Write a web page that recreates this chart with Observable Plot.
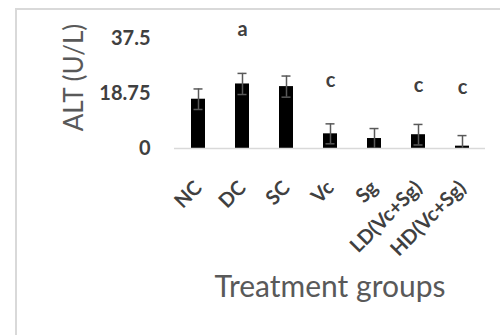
<!DOCTYPE html>
<html>
<head>
<meta charset="utf-8">
<script src="https://cdn.jsdelivr.net/npm/d3@7"></script>
<script src="https://cdn.jsdelivr.net/npm/@observablehq/plot@0.6"></script>
<style>
  html, body { margin: 0; padding: 0; background: #fff; }
  #wrap { position: relative; width: 500px; height: 335px; overflow: hidden; }
  #frame { position: absolute; left: 15px; top: 8px; right: -5px; bottom: -5px;
           border-left: 2px solid #d9d9d9; border-top: 2px solid #d9d9d9; pointer-events: none; }
</style>
</head>
<body>
<div id="wrap"></div>
<script>
const groups = ["NC", "DC", "SC", "Vc", "Sg", "LD(Vc+Sg)", "HD(Vc+Sg)"];
const means = [16.8, 22.0, 21.1, 5.0, 3.4, 4.7, 0.8];
const errors = [3.5, 3.6, 3.6, 3.4, 3.4, 3.5, 3.6];
const letters = ["", "a", "", "c", "", "c", "c"];
const letterY = [null, 38.2, null, 21.1, null, 19.1, 18.75];
const yTicks = [0, 18.75, 37.5];
const yTitle = "ALT (U/L)";
const xTitle = "Treatment groups";

const data = groups.map((g, i) => ({
  group: g, mean: means[i], lo: means[i] - errors[i], hi: means[i] + errors[i],
  letter: letters[i], ly: letterY[i]
}));
const letterData = data.filter(d => d.letter);

const chart = Plot.plot({
  width: 500,
  height: 335,
  marginLeft: 174,
  marginRight: 15,
  marginTop: 38,
  marginBottom: 187,
  style: { fontFamily: "Lato, 'Open Sans', sans-serif", background: "transparent" },
  x: { domain: groups, paddingInner: 0.685, paddingOuter: 0.34, label: null },
  y: { domain: [0, 37.5], label: null },
  marks: [
    Plot.barY(data, { x: "group", y: "mean", fill: "#000" }),
    Plot.ruleY([0], { stroke: "#d9d9d9", strokeWidth: 1.5 }),
    Plot.ruleX(data, { x: "group", y1: "lo", y2: "hi", stroke: "#595959", strokeWidth: 1.5, clip: true }),
    Plot.tickY(data, { x: "group", y: "hi", stroke: "#595959", strokeWidth: 1.5, insetLeft: 2.5, insetRight: 2.5, clip: true }),
    Plot.tickY(data, { x: "group", y: "lo", stroke: "#595959", strokeWidth: 1.5, insetLeft: 2.5, insetRight: 2.5, clip: true }),
    Plot.text(letterData, { x: "group", y: "ly", text: "letter", fontSize: 20, fontWeight: "bold", fill: "#404040", lineAnchor: "bottom", dy: 0 }),
    Plot.axisY({ ticks: yTicks, tickFormat: d => String(d), tickSize: 0, tickPadding: 24, fontSize: 20, fontWeight: "bold", fill: "#404040", label: null }),
    Plot.axisX({ tickSize: 0, tickPadding: 36, tickRotate: -45, fontSize: 20, fontWeight: "bold", fill: "#404040", label: null }),
    Plot.text([yTitle], { frameAnchor: "left", text: d => d, rotate: -90, textAnchor: "middle", dx: -100, dy: -16, fontSize: 26, fill: "#595959" }),
    Plot.text([xTitle], { frameAnchor: "bottom", text: d => d, dy: 148, fontSize: 30, fill: "#595959" })
  ]
});

const wrap = document.getElementById("wrap");
wrap.appendChild(chart);
const frame = document.createElement("div");
frame.id = "frame";
wrap.appendChild(frame);
</script>
</body>
</html>
